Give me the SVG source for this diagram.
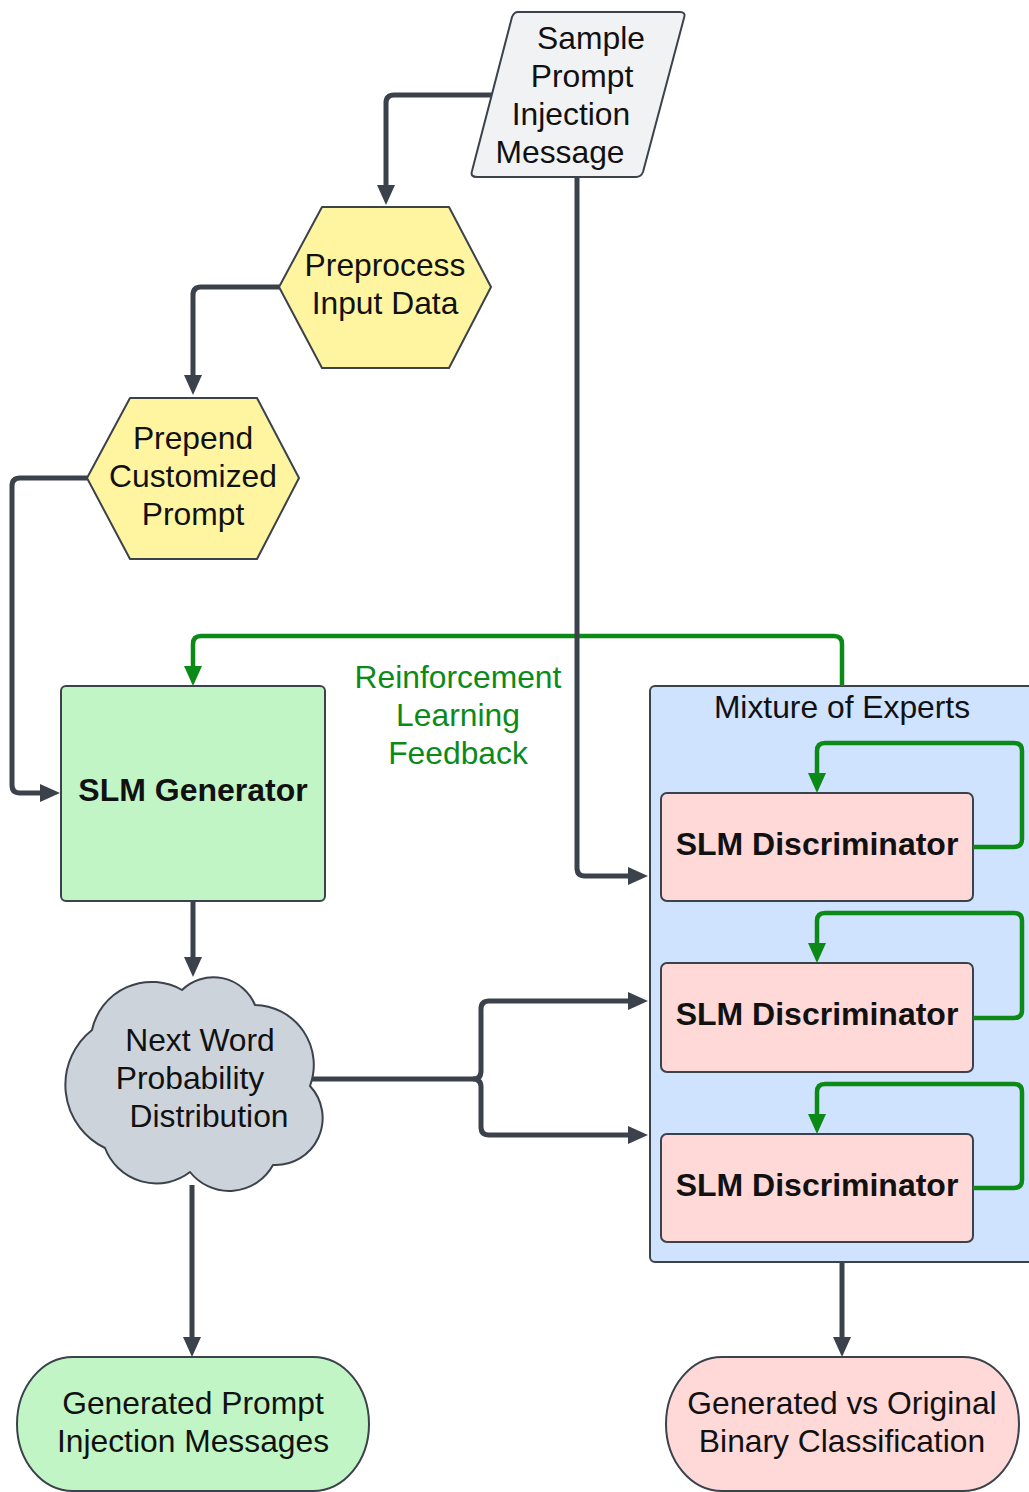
<svg xmlns="http://www.w3.org/2000/svg" width="1029" height="1492" viewBox="0 0 1029 1492">
<style>
text{font-family:"Liberation Sans",Arial,sans-serif;font-size:31.8px;fill:#111;text-anchor:middle;dominant-baseline:central}
.b{font-weight:bold;font-size:32px}
.g{fill:#0c8a17}
.n{stroke:#3b424c;stroke-width:2;stroke-linejoin:round}
.c{fill:none;stroke:#3b424c;stroke-width:5}
.gc{fill:none;stroke:#0c8a17;stroke-width:4.5}
</style>
<defs>
<marker id="ad" markerUnits="userSpaceOnUse" markerWidth="22" markerHeight="20" refX="8" refY="9" orient="auto"><path d="M0,0 L20,9 L0,18 z" fill="#3b424c"/></marker>
<marker id="ag" markerUnits="userSpaceOnUse" markerWidth="22" markerHeight="20" refX="8" refY="9" orient="auto"><path d="M0,0 L20,9 L0,18 z" fill="#0c8a17"/></marker>
</defs>
<rect width="1029" height="1492" fill="#fff"/>

<g id="sample">
<path class="n" d="M518,12 H680 Q686,12 684,18 L643,172 Q641,177 636,177 H477 Q470,177 472,171 L512,17 Q514,12 518,12 Z" fill="#f1f2f4"/>
<text x="591" y="38">Sample</text>
<text x="582" y="76">Prompt</text>
<text x="571" y="114">Injection</text>
<text x="560" y="152">Message</text>
</g>

<g id="preprocess">
<path class="n" d="M279,287 L322,207 H449 L491,287 L449,368 H322 Z" fill="#fff5a0"/>
<text x="385" y="265">Preprocess</text>
<text x="385" y="303">Input Data</text>
</g>

<g id="prepend">
<path class="n" d="M87,478 L130,398 H257 L299,478 L257,559 H130 Z" fill="#fff5a0"/>
<text x="193" y="438">Prepend</text>
<text x="193" y="476">Customized</text>
<text x="193" y="514">Prompt</text>
</g>

<g id="generator">
<rect class="n" x="61" y="686" width="264" height="215" rx="5" fill="#c2f5c5"/>
<text class="b" x="193" y="790">SLM Generator</text>
</g>

<g id="rl-label">
<text class="g" x="458" y="677">Reinforcement</text>
<text class="g" x="458" y="715">Learning</text>
<text class="g" x="458" y="753">Feedback</text>
</g>

<g id="moe">
<rect class="n" x="650" y="686" width="400" height="576" rx="5" fill="#cfe2fe"/>
<text x="842" y="707">Mixture of Experts</text>
</g>

<g id="disc1">
<rect class="n" x="661" y="793" width="312" height="108" rx="6" fill="#ffd8d8"/>
<text class="b" x="817" y="844">SLM Discriminator</text>
</g>
<g id="disc2">
<rect class="n" x="661" y="963" width="312" height="109" rx="6" fill="#ffd8d8"/>
<text class="b" x="817" y="1014">SLM Discriminator</text>
</g>
<g id="disc3">
<rect class="n" x="661" y="1134" width="312" height="108" rx="6" fill="#ffd8d8"/>
<text class="b" x="817" y="1185">SLM Discriminator</text>
</g>

<g id="cloud">
<path class="n" fill="#cdd3db" d="M92,1030 A61,61 0 0 1 182,990 A45,45 0 0 1 255,1005 A60,60 0 0 1 310,1086 A47,47 0 0 1 273,1165 A50,50 0 0 1 190,1172 A55,55 0 0 1 105,1148 A70,70 0 0 1 92,1030 Z"/>
<text x="200" y="1040">Next Word</text>
<text x="190" y="1078">Probability</text>
<text x="209" y="1116">Distribution</text>
</g>

<g id="out-generated">
<rect class="n" x="17" y="1357" width="352" height="134" rx="56" ry="67" fill="#c2f5c5"/>
<text x="193" y="1403">Generated Prompt</text>
<text x="193" y="1441">Injection Messages</text>
</g>

<g id="out-classification">
<rect class="n" x="666" y="1357" width="353" height="134" rx="56" ry="67" fill="#ffd8d8"/>
<text x="842" y="1403">Generated vs Original</text>
<text x="842" y="1441">Binary Classification</text>
</g>

<g id="connectors">
<path class="gc" marker-end="url(#ag)" d="M842,686 V644 Q842,636 834,636 H201 Q193,636 193,644 V674"/>
<path class="gc" marker-end="url(#ag)" d="M973,847 H1014 Q1022,847 1022,839 V751 Q1022,743 1014,743 H825 Q817,743 817,751 V781"/>
<path class="gc" marker-end="url(#ag)" d="M973,1018 H1014 Q1022,1018 1022,1010 V921 Q1022,913 1014,913 H825 Q817,913 817,921 V951"/>
<path class="gc" marker-end="url(#ag)" d="M973,1188 H1014 Q1022,1188 1022,1180 V1092 Q1022,1084 1014,1084 H825 Q817,1084 817,1092 V1122"/>

<path class="c" marker-end="url(#ad)" d="M492,95 H394 Q386,95 386,103 V193"/>
<path class="c" marker-end="url(#ad)" d="M279,287 H201 Q193,287 193,295 V383"/>
<path class="c" marker-end="url(#ad)" d="M87,478 H20 Q12,478 12,486 V785 Q12,793 20,793 H48"/>
<path class="c" marker-end="url(#ad)" d="M577,177 V868 Q577,876 585,876 H636"/>
<path class="c" marker-end="url(#ad)" d="M193,901 V965"/>
<path class="c" marker-end="url(#ad)" d="M312,1079 H473 Q481,1079 481,1071 V1009 Q481,1001 489,1001 H636"/>
<path class="c" marker-end="url(#ad)" d="M473,1079 Q481,1079 481,1087 V1127 Q481,1135 489,1135 H636"/>
<path class="c" marker-end="url(#ad)" d="M192,1185 V1345"/>
<path class="c" marker-end="url(#ad)" d="M842,1262 V1345"/>
</g>
</svg>
